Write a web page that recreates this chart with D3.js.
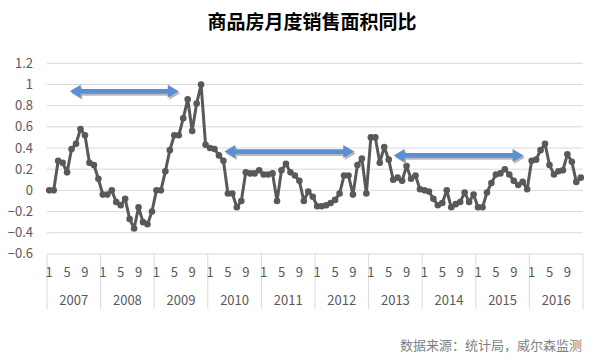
<!DOCTYPE html>
<html><head><meta charset="utf-8">
<script src="https://cdn.jsdelivr.net/npm/d3@7"></script>
<style>body{margin:0;background:#fff;}svg{display:block;font-family:"Noto Sans CJK SC","Noto Sans",sans-serif;}</style>
</head><body><svg id="c" width="600" height="360"></svg>
<script>
const years = ["2007","2008","2009","2010","2011","2012","2013","2014","2015","2016"];
const monthLabels = ["1","5","9"];
const monthLabelIdx = [0,4,8];
const yTicks = [-0.6,-0.4,-0.2,0,0.2,0.4,0.6,0.8,1,1.2];
const v2007 = [0,0,0.28,0.26,0.17,0.39,0.44,0.58,0.52,0.26,0.24,0.11];
const v2008 = [-0.04,-0.04,0.0,-0.11,-0.14,-0.08,-0.27,-0.36,-0.16,-0.30,-0.32,-0.20];
const v2009 = [0,0,0.18,0.38,0.52,0.52,0.68,0.86,0.56,0.82,1.0,0.43];
const v2010 = [0.40,0.39,0.33,0.28,-0.03,-0.03,-0.16,-0.10,0.17,0.16,0.16,0.19];
const v2011 = [0.15,0.15,0.16,-0.10,0.19,0.25,0.17,0.14,0.09,-0.10,-0.01,-0.06];
const v2012 = [-0.15,-0.15,-0.14,-0.12,-0.09,-0.03,0.14,0.14,-0.04,0.24,0.30,-0.03];
const v2013 = [0.50,0.50,0.26,0.41,0.29,0.10,0.12,0.09,0.23,0.11,0.14,0.01];
const v2014 = [0.00,-0.01,-0.08,-0.14,-0.12,0.00,-0.16,-0.13,-0.11,-0.02,-0.11,-0.04];
const v2015 = [-0.16,-0.16,-0.02,0.07,0.15,0.16,0.20,0.15,0.09,0.05,0.08,0.01];
const v2016 = [0.28,0.29,0.38,0.44,0.24,0.15,0.18,0.19,0.34,0.27,0.08,0.12];
const values = [].concat(v2007,v2008,v2009,v2010,v2011,v2012,v2013,v2014,v2015,v2016);
// annotation arrows: [start month index, end month index, y value]
const arrowStart = [5.1, 39.7, 77.6];
const arrowEnd = [29.5, 68.8, 106.7];
const arrowY = [0.935, 0.366, 0.33];
const title = "商品房月度销售面积同比";
const source = "数据来源：统计局，威尔森监测";

const svg = d3.select("#c");
const L = 47, R = 583, T = 63.3, B = 253.9;
const x = d3.scaleLinear().domain([0, values.length]).range([L, R]);
const y = d3.scaleLinear().domain([-0.6, 1.2]).range([B, T]);

// gridlines
svg.append("g").selectAll("line").data(yTicks).join("line")
  .attr("x1", L).attr("x2", R)
  .attr("y1", d => y(d)).attr("y2", d => y(d))
  .attr("stroke", "#d9d9d9").attr("stroke-width", 1);

// y labels
svg.append("g").selectAll("text").data(yTicks).join("text")
  .attr("x", 33).attr("y", d => y(d)).attr("dy", "0.35em")
  .attr("text-anchor", "end").attr("font-size", 13).attr("fill", "#595959")
  .text(d => d3.format("")(Math.round(d*10)/10));

// year separators
const bounds = d3.range(years.length + 1).map(i => i * 12);
svg.append("g").selectAll("line").data(bounds).join("line")
  .attr("x1", d => x(d)).attr("x2", d => x(d))
  .attr("y1", B).attr("y2", 309)
  .attr("stroke", "#d9d9d9").attr("stroke-width", 1);

// month labels
const ml = [];
years.forEach((yr, i) => monthLabelIdx.forEach((m, j) => ml.push({k: i*12 + m, t: monthLabels[j]})));
svg.append("g").selectAll("text").data(ml).join("text")
  .attr("x", d => x(d.k + 0.5)).attr("y", 277)
  .attr("text-anchor", "middle").attr("font-size", 13).attr("fill", "#595959")
  .text(d => d.t);

// year labels
svg.append("g").selectAll("text").data(years).join("text")
  .attr("x", (d, i) => x(i*12 + 6)).attr("y", 305)
  .attr("text-anchor", "middle").attr("font-size", 13).attr("fill", "#595959")
  .text(d => d);

// line
const line = d3.line().x((d, i) => x(i + 0.5)).y(d => y(d));
svg.append("path").datum(values).attr("d", line)
  .attr("fill", "none").attr("stroke", "#595959").attr("stroke-width", 3)
  .attr("stroke-linejoin", "round");
svg.append("g").selectAll("circle").data(values).join("circle")
  .attr("cx", (d, i) => x(i + 0.5)).attr("cy", d => y(d)).attr("r", 3.3)
  .attr("fill", "#595959");

// arrows
function arrowPath(x1, x2, yy) {
  const hl = 11, hw = 6.5, sw = 2.3;
  return `M${x1},${yy} L${x1+hl},${yy-hw} L${x1+hl},${yy-sw} L${x2-hl},${yy-sw} L${x2-hl},${yy-hw} L${x2},${yy} L${x2-hl},${yy+hw} L${x2-hl},${yy+sw} L${x1+hl},${yy+sw} L${x1+hl},${yy+hw} Z`;
}
const arrows = arrowStart.map((s, i) => ({s, e: arrowEnd[i], v: arrowY[i]}));
const ag = svg.append("g");
ag.selectAll("path.sh").data(arrows).join("path").attr("class", "sh")
  .attr("d", d => arrowPath(x(d.s), x(d.e), y(d.v)))
  .attr("transform", "translate(1.5,2)")
  .attr("fill", "#a6a6a6").attr("opacity", 0.8);
ag.selectAll("path.ar").data(arrows).join("path").attr("class", "ar")
  .attr("d", d => arrowPath(x(d.s), x(d.e), y(d.v)))
  .attr("fill", "#5b8fd3");

// title
svg.append("text").attr("x", 312).attr("y", 29).attr("text-anchor", "middle")
  .attr("font-size", 19).attr("font-weight", "bold").attr("fill", "#000").text(title);

// source
svg.append("text").attr("x", 582).attr("y", 350).attr("text-anchor", "end")
  .attr("font-size", 13).attr("fill", "#7f7f7f").text(source);
</script></body></html>
